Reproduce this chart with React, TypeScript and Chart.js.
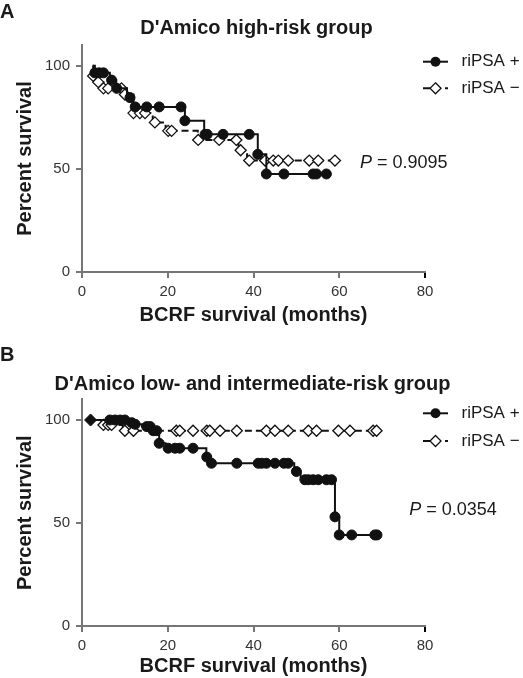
import React, { useEffect, useRef } from 'react';
import { Chart, registerables } from 'chart.js';

Chart.register(...registerables);

const FONT = '"Liberation Sans", Arial, Helvetica, sans-serif';
const INK = '#111111';
const AXIS = '#767676';

// ---------- shared axis data ----------
const xTickValues = [0, 20, 40, 60, 80];
const yTickValues = [0, 50, 100];
const seriesNames = ['riPSA +', 'riPSA \u2212'];
const xAxisTitle = 'BCRF survival (months)';
const yAxisTitle = 'Percent survival';

// ---------- Panel A: D'Amico high-risk group ----------
const aTitle = "D'Amico high-risk group";
const aPValue = '0.9095';
// riPSA + (step times and survival after each step)
const aPosStepT = [2.5, 3, 6.5, 8, 10.5, 12, 24, 28.5, 41, 43, 57];
const aPosStepS = [100, 96.5, 93, 89, 84.5, 80, 73.3, 66.7, 57, 47.5, 47.5];
const aPosMarkT = [3, 4, 5, 6.9, 8.1, 11.2, 12.4, 15.1, 18, 23.1, 24, 28.7, 29.2, 32.9, 39, 41, 43, 47.1, 53.9, 54.7, 57];
// riPSA -
const aNegStepT = [2.5, 2.6, 3.8, 5, 10, 12, 16.5, 19.5, 27, 36.5, 38.5, 59];
const aNegStepS = [100, 95, 92, 89, 86, 77, 72.5, 68.4, 64, 59, 54, 54];
const aNegMarkT = [2.6, 3.8, 5, 6.1, 9.2, 10, 12, 13.5, 14.7, 17, 20.1, 20.9, 27.1, 32, 36, 37, 39, 42.7, 44.6, 45.8, 48.1, 53, 55.1, 59];

// ---------- Panel B: D'Amico low- and intermediate-risk group ----------
const bTitle = "D'Amico low- and intermediate-risk group";
const bPValue = '0.0354';
const bPosStepT = [2, 11.3, 12.3, 14, 16.3, 18, 19.5, 29, 30, 49.5, 51, 59, 60, 69];
const bPosStepS = [100, 98.7, 97.9, 96.8, 94.8, 88.7, 86.3, 82, 79, 75, 71, 53, 44.2, 44.2];
const bPosMarkT = [6.5, 7.7, 8.9, 10, 11.6, 12.4, 15.1, 15.9, 16.6, 17.4, 18, 20.1, 21.7, 22.8, 25.9, 29.1, 30.2, 36.1, 41.1, 41.9, 43, 45, 47.1, 48.1, 50, 52, 52.8, 53.9, 55.1, 57, 58.2, 59, 60, 62.9, 68.3, 68.8];
const bNegStepT = [2, 4.5, 9.5, 69];
const bNegStepS = [100, 97.6, 94.8, 94.8];
const bNegMarkT = [5, 6.1, 6.9, 10, 12, 22, 22.8, 25.9, 29.1, 29.8, 32.2, 36.1, 43, 45, 48.1, 52.8, 54.7, 59.8, 62.5, 67.9, 68.7];
const bStartT = [2];
const bStartS = [100];

// ---------- helpers ----------
const survAt = (ts: number[], ss: number[], t: number) => {
  let v = ss[0];
  for (let i = 0; i < ts.length; i++) if (ts[i] <= t + 1e-9) v = ss[i];
  return v;
};
const stepPts = (ts: number[], ss: number[]) => ts.map((t, i) => ({ x: t, y: ss[i] }));
const markPts = (ms: number[], ts: number[], ss: number[]) => ms.map((t) => ({ x: t, y: survAt(ts, ss, t) }));

type PanelCfg = {
  letter: string;
  letterY: number;
  title: string;
  titleX: number;
  titleY: number;
  legendY: [number, number];
  pX: number;
  pY: number;
  pValue: string;
  padTop: number;
  padBottom: number;
  xAxisH: number;
  pos: { stepT: number[]; stepS: number[]; markT: number[] };
  neg: { stepT: number[]; stepS: number[]; markT: number[] };
  start?: { t: number[]; s: number[] };
};

function drawDiamond(ctx: CanvasRenderingContext2D, x: number, y: number, r: number, fill: string) {
  ctx.beginPath();
  ctx.moveTo(x, y - r);
  ctx.lineTo(x + r, y);
  ctx.lineTo(x, y + r);
  ctx.lineTo(x - r, y);
  ctx.closePath();
  ctx.fillStyle = fill;
  ctx.fill();
  ctx.lineWidth = 1.3;
  ctx.strokeStyle = INK;
  ctx.stroke();
}

const makeOverlay = (p: PanelCfg) => ({
  id: 'overlay' + p.letter,
  afterDraw(chart: any) {
    const ctx: CanvasRenderingContext2D = chart.ctx;
    ctx.save();
    ctx.fillStyle = '#1a1a1a';
    ctx.font = `bold 20px ${FONT}`;
    ctx.textBaseline = 'alphabetic';
    ctx.textAlign = 'left';
    ctx.fillText(p.letter, 0, p.letterY);
    ctx.textAlign = 'center';
    ctx.fillText(p.title, p.titleX, p.titleY);

    // legend
    const lx0 = 423, lx1 = 448, mx = 435.5, tx = 461.5;
    const [y1, y2] = p.legendY;
    ctx.strokeStyle = INK;
    ctx.lineWidth = 2;
    ctx.setLineDash([]);
    ctx.beginPath();
    ctx.moveTo(lx0, y1);
    ctx.lineTo(lx1, y1);
    ctx.stroke();
    ctx.beginPath();
    ctx.arc(mx, y1, 5, 0, Math.PI * 2);
    ctx.fillStyle = INK;
    ctx.fill();
    ctx.setLineDash([7, 4]);
    ctx.beginPath();
    ctx.moveTo(lx0, y2);
    ctx.lineTo(lx1, y2);
    ctx.stroke();
    ctx.setLineDash([]);
    drawDiamond(ctx, mx, y2, 5.5, '#ffffff');

    ctx.fillStyle = '#1a1a1a';
    ctx.font = `17px ${FONT}`;
    ctx.textAlign = 'left';
    ctx.textBaseline = 'middle';
    ctx.fillText(seriesNames[0], tx, y1);
    ctx.fillText(seriesNames[1], tx, y2);

    // P value
    ctx.font = `italic 18px ${FONT}`;
    ctx.fillText('P', p.pX, p.pY);
    const w = ctx.measureText('P').width;
    ctx.font = `18px ${FONT}`;
    ctx.fillText(' = ' + p.pValue, p.pX + w, p.pY);
    ctx.restore();
  },
});

function buildConfig(p: PanelCfg): any {
  const datasets: any[] = [
    {
      type: 'scatter',
      label: seriesNames[0] + ' marks',
      data: markPts(p.pos.markT, p.pos.stepT, p.pos.stepS),
      pointStyle: 'circle',
      pointRadius: 5,
      backgroundColor: INK,
      borderColor: INK,
      borderWidth: 1,
      showLine: false,
    },
    {
      type: 'line',
      label: seriesNames[0],
      data: stepPts(p.pos.stepT, p.pos.stepS),
      stepped: true,
      borderColor: INK,
      borderWidth: 2,
      pointRadius: 0,
      fill: false,
    },
  ];
  if (p.start) {
    datasets.push({
      type: 'scatter',
      label: 'start',
      data: p.start.t.map((t, i) => ({ x: t, y: p.start!.s[i] })),
      pointStyle: 'rectRot',
      pointRadius: 6,
      backgroundColor: INK,
      borderColor: INK,
      borderWidth: 1,
      showLine: false,
    });
  }
  datasets.push(
    {
      type: 'scatter',
      label: seriesNames[1] + ' marks',
      data: markPts(p.neg.markT, p.neg.stepT, p.neg.stepS),
      pointStyle: 'rectRot',
      pointRadius: 5.5,
      backgroundColor: '#ffffff',
      borderColor: INK,
      borderWidth: 1.3,
      showLine: false,
    },
    {
      type: 'line',
      label: seriesNames[1],
      data: stepPts(p.neg.stepT, p.neg.stepS),
      stepped: true,
      borderColor: INK,
      borderWidth: 2,
      borderDash: [7, 4],
      pointRadius: 0,
      fill: false,
    }
  );

  const tickFont = { family: FONT, size: 15 };
  const titleFont = { family: FONT, size: 20, weight: 'bold' as const };

  return {
    type: 'scatter',
    data: { datasets },
    options: {
      animation: false,
      responsive: false,
      events: [],
      layout: { padding: { left: 0, right: 98, top: p.padTop, bottom: p.padBottom } },
      plugins: {
        legend: { display: false },
        tooltip: { enabled: false },
        title: { display: false },
      },
      scales: {
        x: {
          type: 'linear',
          position: 'bottom',
          min: 0,
          max: 80,
          afterBuildTicks: (s: any) => {
            s.ticks = xTickValues.map((v) => ({ value: v }));
          },
          afterFit: (s: any) => {
            s.height = p.xAxisH;
          },
          ticks: { font: tickFont, color: '#333333', padding: 5, maxRotation: 0, autoSkip: false },
          grid: {
            drawOnChartArea: false,
            drawTicks: true,
            tickLength: 6,
            lineWidth: 2,
            color: (c: any) => (c.tick && c.tick.value === 80 ? '#000000' : AXIS),
          },
          border: { display: true, color: AXIS, width: 2 },
          title: { display: true, text: xAxisTitle, font: titleFont, color: '#1a1a1a', padding: 0 },
        },
        y: {
          type: 'linear',
          min: 0,
          max: 110,
          afterBuildTicks: (s: any) => {
            s.ticks = yTickValues.map((v) => ({ value: v }));
          },
          afterFit: (s: any) => {
            s.width = 82;
          },
          ticks: { font: tickFont, color: '#333333', padding: 6 },
          grid: { drawOnChartArea: false, drawTicks: true, tickLength: 6, lineWidth: 2, color: AXIS },
          border: { display: true, color: AXIS, width: 2 },
          title: { display: true, text: yAxisTitle, font: titleFont, color: '#1a1a1a', padding: { top: 13, bottom: 0 } },
        },
      },
    },
    plugins: [makeOverlay(p)],
  };
}

const panelA: PanelCfg = {
  letter: 'A',
  letterY: 17.5,
  title: aTitle,
  titleX: 256.5,
  titleY: 34,
  legendY: [61.7, 88.3],
  pX: 360,
  pY: 163,
  pValue: aPValue,
  padTop: 45,
  padBottom: 12,
  xAxisH: 55,
  pos: { stepT: aPosStepT, stepS: aPosStepS, markT: aPosMarkT },
  neg: { stepT: aNegStepT, stepS: aNegStepS, markT: aNegMarkT },
};

const panelB: PanelCfg = {
  letter: 'B',
  letterY: 22.3,
  title: bTitle,
  titleX: 252.5,
  titleY: 51.3,
  legendY: [74.3, 102],
  pX: 409.3,
  pY: 171,
  pValue: bPValue,
  padTop: 60.4,
  padBottom: 0,
  xAxisH: 52,
  pos: { stepT: bPosStepT, stepS: bPosStepS, markT: bPosMarkT },
  neg: { stepT: bNegStepT, stepS: bNegStepS, markT: bNegMarkT },
  start: { t: bStartT, s: bStartS },
};

function Panel({ cfg, height }: { cfg: PanelCfg; height: number }) {
  const ref = useRef<HTMLCanvasElement>(null);
  useEffect(() => {
    if (!ref.current) return;
    const chart = new Chart(ref.current, buildConfig(cfg));
    return () => chart.destroy();
  }, [cfg]);
  return <canvas ref={ref} width={523} height={height} style={{ display: 'block', width: 523, height }} />;
}

export default function App() {
  return (
    <div style={{ position: 'absolute', left: 0, top: 0, width: 523, height: 678, background: '#ffffff' }}>
      <Panel cfg={panelA} height={339} />
      <Panel cfg={panelB} height={339} />
    </div>
  );
}
